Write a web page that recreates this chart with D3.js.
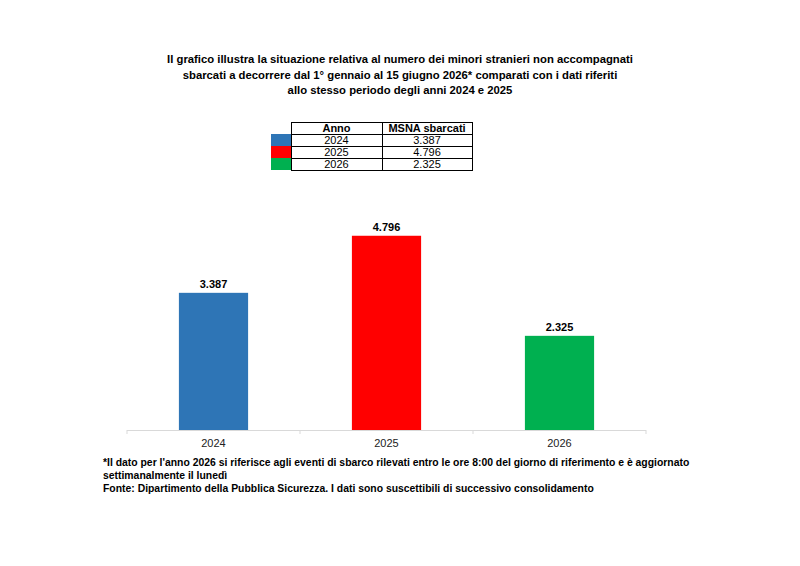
<!DOCTYPE html>
<html>
<head>
<meta charset="utf-8">
<script src="https://cdn.jsdelivr.net/npm/d3@7"></script>
<style>
  body { margin: 0; background: #fff; }
  svg { display: block; font-family: 'Liberation Sans', Arial, sans-serif; }
</style>
</head>
<body>
<div id="chart"></div>
<script>
// data
const years = ['2024', '2025', '2026'];
const arrivals = [3387, 4796, 2325];
const colors = ['#2e75b6', '#ff0000', '#00b050'];

const titleLines = [
  'Il grafico illustra la situazione relativa al numero dei minori stranieri non accompagnati',
  'sbarcati a decorrere dal 1° gennaio al 15 giugno 2026* comparati con i dati riferiti',
  'allo stesso periodo degli anni 2024 e 2025'
];
const tableHeader = ['Anno', 'MSNA sbarcati'];
const noteLines = [
  '*Il dato per l\'anno 2026 si riferisce agli eventi di sbarco rilevati entro le ore 8:00 del giorno di riferimento e è aggiornato',
  'settimanalmente il lunedì',
  'Fonte: Dipartimento della Pubblica Sicurezza. I dati sono suscettibili di successivo consolidamento'
];

const width = 800;
const height = 566;
const it = d3.formatLocale({decimal: ',', thousands: '.', grouping: [3], currency: ['€', '']});
const fmt = it.format(',d');

const svg = d3.select('#chart').append('svg')
    .attr('width', width)
    .attr('height', height);

// title
svg.append('g').selectAll('text').data(titleLines).join('text')
    .attr('x', 400)
    .attr('y', (d, i) => 63 + i * 15.5)
    .attr('text-anchor', 'middle')
    .attr('font-size', 11.3)
    .attr('font-weight', 'bold')
    .attr('fill', '#000')
    .text((d) => d);

// data table
const table = {x: 291, y: 122, rowH: 12, cols: [291, 382, 472], swatch: 20};
const tg = svg.append('g');
const rows = years.map((y, i) => [y, fmt(arrivals[i])]);
tg.selectAll('rect.sw').data(rows).join('rect')
    .attr('class', 'sw')
    .attr('x', table.x - table.swatch)
    .attr('y', (d, i) => table.y + (i + 1) * table.rowH)
    .attr('width', table.swatch)
    .attr('height', table.rowH)
    .attr('fill', (d, i) => colors[i]);
tg.append('rect')
    .attr('x', table.cols[0] + 0.5)
    .attr('y', table.y + 0.5)
    .attr('width', table.cols[2] - table.cols[0])
    .attr('height', table.rowH * 4)
    .attr('fill', 'none')
    .attr('stroke', '#000');
d3.range(1, 4).forEach((i) => {
  tg.append('line')
      .attr('x1', table.cols[0]).attr('x2', table.cols[2])
      .attr('y1', table.y + i * table.rowH + 0.5)
      .attr('y2', table.y + i * table.rowH + 0.5)
      .attr('stroke', '#000');
});
tg.append('line')
    .attr('x1', table.cols[1] + 0.5).attr('x2', table.cols[1] + 0.5)
    .attr('y1', table.y).attr('y2', table.y + table.rowH * 4)
    .attr('stroke', '#000');
[tableHeader, ...rows].forEach((r, i) => {
  r.forEach((cell, j) => {
    tg.append('text')
        .attr('x', (table.cols[j] + table.cols[j + 1]) / 2)
        .attr('y', table.y + i * table.rowH + 10)
        .attr('text-anchor', 'middle')
        .attr('font-size', 11)
        .attr('font-weight', i === 0 ? 'bold' : 'normal')
        .text(cell);
  });
});

// bars
const x = d3.scaleBand().domain(years).range([127, 646]).paddingInner(0.6).paddingOuter(0.3);
const y = d3.scaleLinear().domain([0, 6000]).range([430, 187]);

svg.append('g').selectAll('rect').data(years).join('rect')
    .attr('x', (d) => x(d))
    .attr('y', (d, i) => y(arrivals[i]))
    .attr('width', x.bandwidth())
    .attr('height', (d, i) => y(0) - y(arrivals[i]))
    .attr('fill', (d, i) => colors[i]);

svg.append('g').selectAll('text').data(years).join('text')
    .attr('x', (d) => x(d) + x.bandwidth() / 2)
    .attr('y', (d, i) => y(arrivals[i]) - 5)
    .attr('text-anchor', 'middle')
    .attr('font-size', 11)
    .attr('font-weight', 'bold')
    .text((d, i) => fmt(arrivals[i]));

// category axis
const axisG = svg.append('g').attr('transform', `translate(0,${y(0)})`);
axisG.append('line')
    .attr('x1', 127).attr('x2', 646)
    .attr('y1', 0.5).attr('y2', 0.5)
    .attr('stroke', '#d9d9d9');
const step = (646 - 127) / years.length;
axisG.selectAll('line.tick').data(d3.range(years.length + 1)).join('line')
    .attr('class', 'tick')
    .attr('x1', (i) => 127 + i * step).attr('x2', (i) => 127 + i * step)
    .attr('y1', 0).attr('y2', 4)
    .attr('stroke', '#d9d9d9');
axisG.selectAll('text').data(years).join('text')
    .attr('x', (d) => x(d) + x.bandwidth() / 2)
    .attr('y', 17)
    .attr('text-anchor', 'middle')
    .attr('font-size', 11)
    .attr('fill', '#222')
    .text((d) => d);

// notes
svg.append('g').selectAll('text').data(noteLines).join('text')
    .attr('x', 103)
    .attr('y', (d, i) => 466 + i * 13)
    .attr('font-size', 10.4)
    .attr('font-weight', 'bold')
    .text((d) => d);
</script>
</body>
</html>
